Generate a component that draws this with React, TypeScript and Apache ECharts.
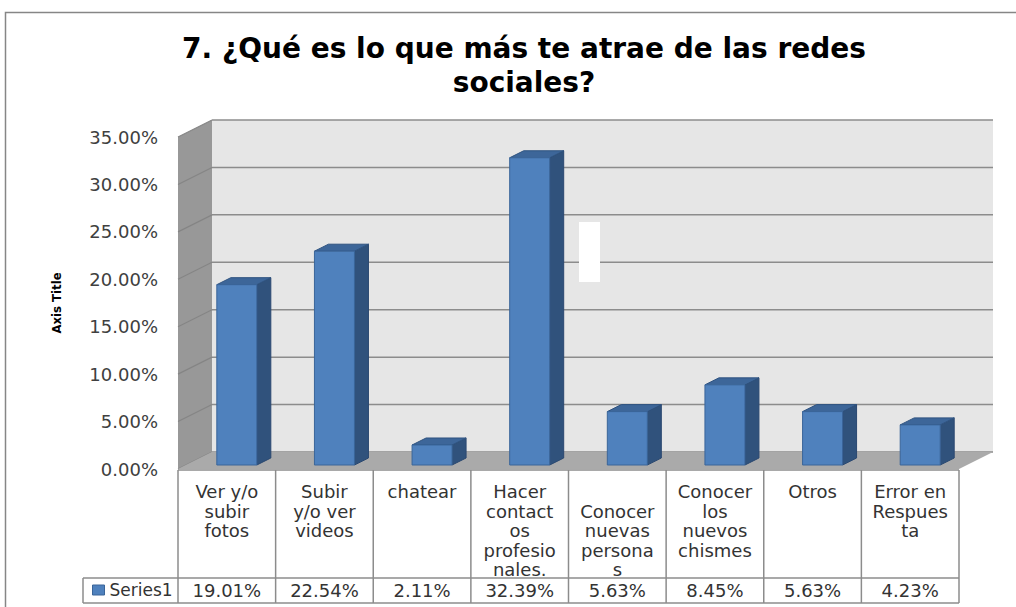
import React, { useEffect, useRef } from "react";
import * as echarts from "echarts";

const titleText = "7. ¿Qué es lo que más te atrae de las redes\nsociales?";
const categories = [
  "Ver y/o\nsubir\nfotos",
  "Subir\ny/o ver\nvideos",
  "chatear",
  "Hacer\ncontact\nos\nprofesio\nnales.",
  "\nConocer\nnuevas\npersona\ns",
  "Conocer\nlos\nnuevos\nchismes",
  "Otros",
  "Error en\nRespues\nta",
];
const values = [19.01, 22.54, 2.11, 32.39, 5.63, 8.45, 5.63, 4.23];
const yTicks = [0, 5, 10, 15, 20, 25, 30, 35];
const seriesName = "Series1";

// layout (front plane of the 3D plot)
const W = 1016;
const H = 607;
const PL = 178;
const PR = 959;
const PT = 137;
const PB = 469;
const DX = 34; // depth offset of back wall
const DY = -17;
const YMAX = 35;

const FONT = "DejaVu Sans";

export default function App() {
  const ref = useRef<HTMLDivElement>(null);
  useEffect(() => {
    if (!ref.current) return;
    const chart = echarts.init(ref.current, undefined, { renderer: "svg" });
    const yOf = (v: number) => PB - (v / YMAX) * (PB - PT);
    const grid = "#8c8c8c";
    const graphics: any[] = [];
    // outer border
    graphics.push({
      type: "rect",
      z: 0,
      shape: { x: 5.5, y: 12.5, width: 1100, height: 700 },
      style: { fill: "#fff", stroke: "#868686", lineWidth: 1.5 },
    });
    // back wall
    graphics.push({
      type: "rect",
      z: 1,
      shape: { x: PL + DX, y: PT + DY, width: PR - PL, height: PB - PT },
      style: { fill: "#e6e6e6" },
    });
    // side wall
    graphics.push({
      type: "polygon",
      z: 1,
      shape: { points: [[PL, PT], [PL + DX, PT + DY], [PL + DX, PB + DY], [PL, PB]] },
      style: { fill: "#989898" },
    });
    yTicks.forEach((t) => {
      const yf = yOf(t);
      graphics.push({
        type: "line",
        z: 2,
        shape: { x1: PL + DX, y1: yf + DY, x2: PR + DX, y2: yf + DY },
        style: { stroke: grid, lineWidth: 1.5 },
      });
      graphics.push({
        type: "line",
        z: 2,
        shape: { x1: PL, y1: yf, x2: PL + DX, y2: yf + DY },
        style: { stroke: "#858585", lineWidth: 1.2 },
      });
    });
    // floor
    graphics.push({
      type: "polygon",
      z: 3,
      shape: { points: [[PL, PB], [PL + DX, PB + DY], [PR + DX, PB + DY], [PR, PB]] },
      style: { fill: "#aaaaaa" },
    });
    // white artifact rectangle
    graphics.push({
      type: "rect",
      z: 3,
      shape: { x: 579, y: 222, width: 21, height: 60 },
      style: { fill: "#ffffff" },
    });
    // data table lines
    const n = categories.length;
    const colW = (PR - PL) / n;
    const tTop = 470;
    const tMid = 578;
    const tBot = 603;
    const tLeft = 83;
    const tl = { stroke: "#8c8c8c", lineWidth: 1.5 };
    graphics.push({ type: "line", z: 4, shape: { x1: PL, y1: tTop, x2: PR, y2: tTop }, style: tl });
    graphics.push({ type: "line", z: 4, shape: { x1: tLeft, y1: tMid, x2: PR, y2: tMid }, style: tl });
    graphics.push({ type: "line", z: 4, shape: { x1: tLeft, y1: tBot, x2: PR, y2: tBot }, style: tl });
    graphics.push({ type: "line", z: 4, shape: { x1: tLeft, y1: tMid, x2: tLeft, y2: tBot }, style: tl });
    for (let i = 0; i <= n; i++) {
      const x = PL + i * colW;
      graphics.push({ type: "line", z: 4, shape: { x1: x, y1: tTop, x2: x, y2: tBot }, style: tl });
    }

    chart.setOption({
      animation: false,
      backgroundColor: "#ffffff",
      title: {
        text: titleText,
        left: 519,
        top: 26,
        textAlign: "center",
        textStyle: {
          fontFamily: FONT,
          fontWeight: "bold",
          fontSize: 28,
          lineHeight: 34,
          color: "#000000",
        },
      },
      legend: {
        show: true,
        left: 92,
        top: 580,
        padding: 0,
        itemWidth: 12,
        itemHeight: 10,
        icon: "rect",
        data: [seriesName],
        itemStyle: { borderColor: "#3a6599", borderWidth: 1 },
        textStyle: { fontFamily: FONT, fontSize: 17, color: "#333333", lineHeight: 20 },
      },
      graphic: graphics,
      grid: { left: PL, right: W - PR, top: PT, bottom: H - PB, containLabel: false },
      xAxis: [
        {
          type: "category",
          data: categories,
          axisLine: { show: false },
          axisTick: { show: false },
          axisLabel: {
            interval: 0,
            margin: 13,
            verticalAlign: "top",
            lineHeight: 19.5,
            fontFamily: FONT,
            fontSize: 18,
            color: "#333333",
          },
        },
        {
          type: "category",
          position: "bottom",
          data: values.map((v) => v.toFixed(2) + "%"),
          axisLine: { show: false },
          axisTick: { show: false },
          axisLabel: {
            interval: 0,
            margin: 121,
            verticalAlign: "middle",
            fontFamily: FONT,
            fontSize: 18,
            color: "#333333",
          },
        },
      ],
      yAxis: {
        type: "value",
        min: 0,
        max: YMAX,
        interval: 5,
        name: "Axis Title",
        nameLocation: "middle",
        nameRotate: 90,
        nameGap: 115,
        nameTextStyle: {
          fontFamily: "DejaVu Sans Condensed",
          fontWeight: "bold",
          fontSize: 13,
          color: "#000000",
        },
        axisLine: { show: false },
        axisTick: { show: false },
        splitLine: { show: false },
        axisLabel: {
          margin: 20,
          fontFamily: FONT,
          fontSize: 18,
          color: "#404040",
          formatter: (v: number) => v.toFixed(2) + "%",
        },
      },
      series: [
        {
          name: seriesName,
          type: "custom",
          z: 10,
          itemStyle: { color: "#4f81bd" },
          data: values.map((v, i) => [i, v]),
          encode: { x: 0, y: 1 },
          renderItem: (params: any, api: any) => {
            const idx = api.value(0);
            const v = api.value(1);
            const [cx, y0] = api.coord([idx, 0]);
            const [, y1] = api.coord([idx, v]);
            const fx = cx - 10;
            const fw = 40;
            const bd = 14;
            const bdy = 7;
            const top = y1 - 4;
            const bot = y0 - 4;
            return {
              type: "group",
              children: [
                {
                  type: "polygon",
                  shape: {
                    points: [
                      [fx + fw, top],
                      [fx + fw + bd, top - bdy],
                      [fx + fw + bd, bot - bdy],
                      [fx + fw, bot],
                    ],
                  },
                  style: { fill: "#30527c", stroke: "#2a4870", lineWidth: 1 },
                },
                {
                  type: "polygon",
                  shape: {
                    points: [
                      [fx, top],
                      [fx + bd, top - bdy],
                      [fx + fw + bd, top - bdy],
                      [fx + fw, top],
                    ],
                  },
                  style: { fill: "#3d6699", stroke: "#2f5380", lineWidth: 1 },
                },
                {
                  type: "rect",
                  shape: { x: fx, y: top, width: fw, height: bot - top },
                  style: { fill: "#4f81bd", stroke: "#3a6599", lineWidth: 1 },
                },
              ],
            };
          },
        },
      ],
    });
    return () => chart.dispose();
  }, []);
  return (
    <div
      ref={ref}
      style={{ position: "fixed", left: 0, top: 0, width: W, height: H }}
    />
  );
}
